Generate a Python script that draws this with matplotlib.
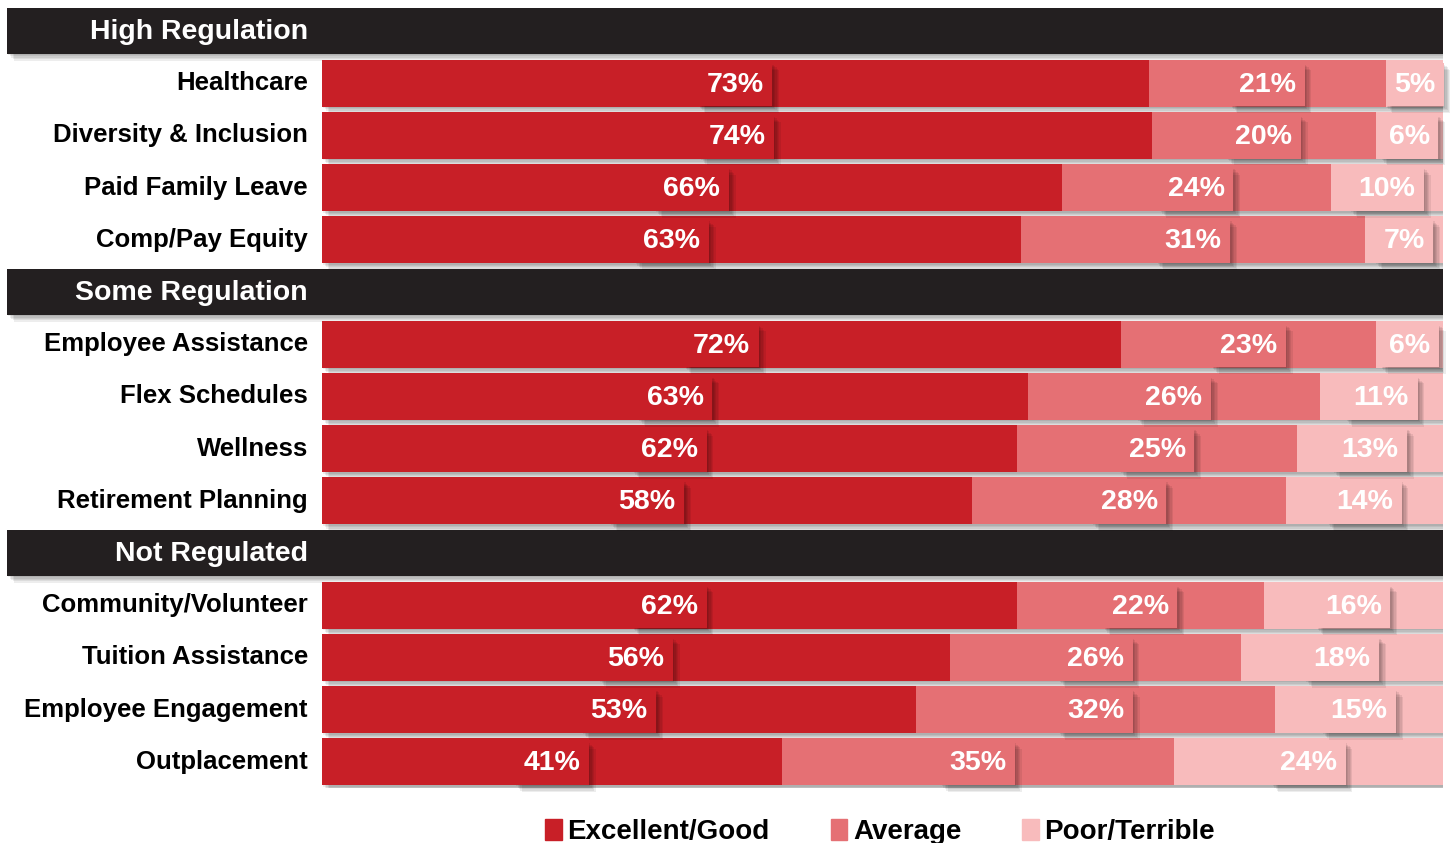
import matplotlib
matplotlib.use("Agg")
import matplotlib.pyplot as plt
import matplotlib.patheffects as pe
from matplotlib.patches import Patch

plt.rcParams['font.family'] = ['Liberation Sans', 'DejaVu Sans']
plt.rcParams['font.weight'] = 'bold'

# data
sections = ['High Regulation', 'Some Regulation', 'Not Regulated']
items = [
    ['Healthcare', 'Diversity & Inclusion', 'Paid Family Leave', 'Comp/Pay Equity'],
    ['Employee Assistance', 'Flex Schedules', 'Wellness', 'Retirement Planning'],
    ['Community/Volunteer', 'Tuition Assistance', 'Employee Engagement', 'Outplacement'],
]
excellent = [73, 74, 66, 63, 72, 63, 62, 58, 62, 56, 53, 41]
average = [21, 20, 24, 31, 23, 26, 25, 28, 22, 26, 32, 35]
poor = [5, 6, 10, 7, 6, 11, 13, 14, 16, 18, 15, 24]
series_names = ['Excellent/Good', 'Average', 'Poor/Terrible']
colors = ['#C81F27', '#E57074', '#F8BBBC']
header_color = '#231F20'

fig = plt.figure(figsize=(14.5, 8.43), dpi=100)
ax = fig.add_axes([7/1450, 1-788/843, 1436/1450, (788-4.9)/843])
ax.set_xlim(-28.1, 100)
ax.set_ylim(14.5, -0.5)
ax.axis('off')

# soft shadow: a few faint offset copies
shadow = [pe.SimplePatchShadow(offset=(d, -d), shadow_rgbFace='black', alpha=0.07)
          for d in (1, 2, 3, 4, 5)] + [pe.Normal()]

slot = 0
k = 0
for s, sec in enumerate(sections):
    hb = ax.barh(slot, 128.1, left=-28.1, height=0.87, color=header_color)
    for p in hb:
        p.set_path_effects(shadow)
    ax.text(-1.25, slot + 0.02, sec, ha='right', va='center', color='white', fontsize=20.5)
    slot += 1
    for name in items[s]:
        vals = [excellent[k], average[k], poor[k]]
        tot = sum(vals)
        left = 0
        for v, c in zip(vals, colors):
            w = v / tot * 100
            b = ax.barh(slot, w, left=left, height=0.9, color=c)
            for p in b:
                p.set_path_effects(shadow)
            t = ax.text(left + w / 2, slot + 0.03, f'{v}%', ha='center', va='center',
                        color='white', fontsize=20.5, zorder=5,
                        bbox=dict(boxstyle='square,pad=0.3', fc=c, ec='none'))
            t.get_bbox_patch().set_path_effects(shadow)
            left += w
        ax.text(-1.25, slot, name, ha='right', va='center', color='black', fontsize=18.5)
        slot += 1
        k += 1

handles = [Patch(color=c) for c in colors]
fig.legend(handles, series_names, loc='center', bbox_to_anchor=(0.607, 1-832/843),
           ncol=3, frameon=False, handlelength=0.6, handleheight=0.8,
           handletextpad=0.2, columnspacing=2.2,
           prop={'family': ['Liberation Sans Narrow', 'Liberation Sans'], 'weight': 'bold', 'size': 20})

fig.savefig('out.png', dpi=100)
